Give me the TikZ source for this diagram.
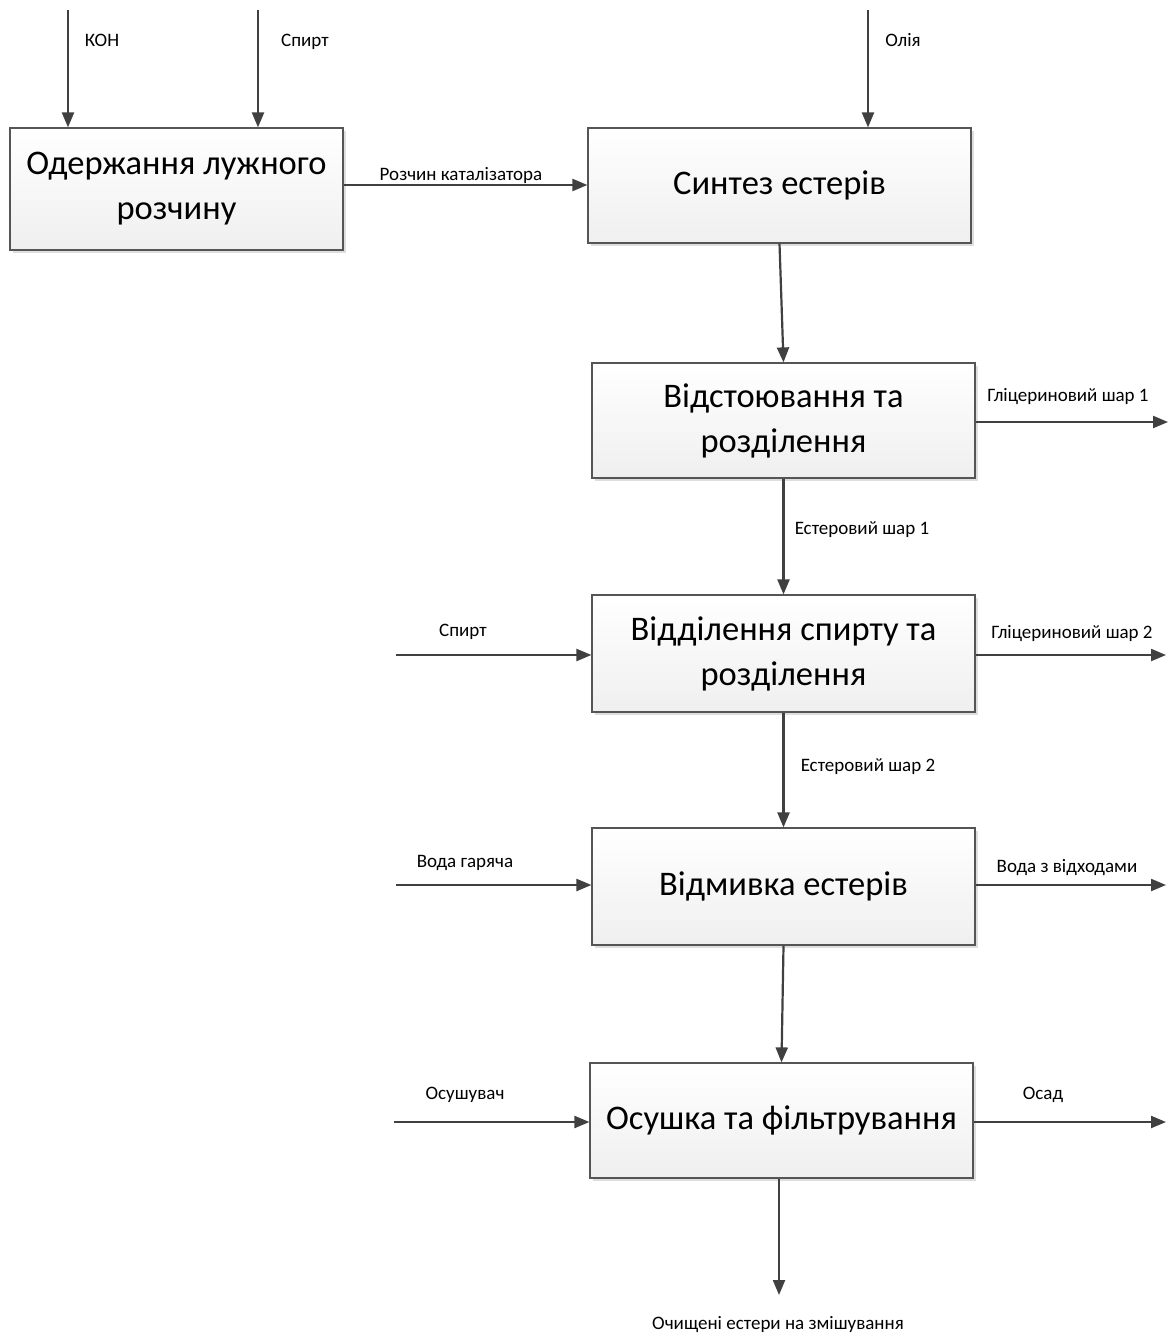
\documentclass[tikz,border=0pt]{standalone}
\usepackage{fontspec}
\setmainfont{Carlito}
\usetikzlibrary{arrows.meta,shadows}
\definecolor{linec}{HTML}{404040}
\definecolor{boxline}{HTML}{555555}
\definecolor{boxbot}{HTML}{EFEFEF}
\tikzset{
  procbox/.style={draw=boxline, line width=1.2pt, top color=white, bottom color=boxbot,
    drop shadow={shadow xshift=3pt, shadow yshift=-3pt, fill=black!13, opacity=1},
    align=center, inner sep=2pt, font=\fontsize{34.5}{45}\selectfont},
  flow/.style={draw=linec, line width=2.2pt, -{Triangle[length=15pt,width=12pt]}},
  lbl/.style={font=\fontsize{19}{23}\selectfont, inner sep=0pt, text=black}
}
\begin{document}
\begin{tikzpicture}[x=1pt,y=-1pt]
\useasboundingbox[fill=white] (0,0) rectangle (1171,1343);
% boxes
\node[procbox, minimum width=333pt, minimum height=122pt] (b1) at (176.5,189) {Одержання лужного\\розчину};
\node[procbox, minimum width=383pt, minimum height=115pt] (b2) at (779.5,185.5) {Синтез естерів};
\node[procbox, minimum width=383pt, minimum height=115pt] (b3) at (783.5,420.5) {Відстоювання та\\розділення};
\node[procbox, minimum width=383pt, minimum height=117pt] (b4) at (783.5,653.5) {Відділення спирту та\\розділення};
\node[procbox, minimum width=383pt, minimum height=117pt] (b5) at (783.5,886.5) {Відмивка естерів};
\node[procbox, minimum width=383pt, minimum height=115pt] (b6) at (781.5,1120.5) {Осушка та фільтрування};
% free ends
\coordinate (kohS) at (68,10);
\coordinate (spS) at (258,10);
\coordinate (olS) at (868,10);
\coordinate (gl1E) at (1168,422);
\coordinate (sp2S) at (396,655);
\coordinate (gl2E) at (1166,655);
\coordinate (vgS) at (396,885);
\coordinate (vvE) at (1166,885);
\coordinate (osS) at (394,1122);
\coordinate (odE) at (1166,1122);
\coordinate (finE) at (779,1295);
% connectors
\draw[flow] (kohS) -- (kohS |- b1.north);
\draw[flow] (spS) -- (spS |- b1.north);
\draw[flow] (olS) -- (olS |- b2.north);
\draw[flow] (b1.east |- 0,185) -- (b2.west |- 0,185);
\draw[flow] (b2.south) -- (b3.north);
\draw[flow] (b3.east |- gl1E) -- (gl1E);
\draw[flow] (b3.south) -- (b4.north);
\draw[flow] (sp2S) -- (b4.west |- sp2S);
\draw[flow] (b4.east |- gl2E) -- (gl2E);
\draw[flow] (b4.south) -- (b5.north);
\draw[flow] (vgS) -- (b5.west |- vgS);
\draw[flow] (b5.east |- vvE) -- (vvE);
\draw[flow] (b5.south) -- (b6.north);
\draw[flow] (osS) -- (b6.west |- osS);
\draw[flow] (b6.east |- odE) -- (odE);
\draw[flow] (b6.south -| finE) -- (finE);
% labels
\node[lbl] (lkoh) at (102,40) {КОН};
\node[lbl] (lsp) at (305,42) {Спирт};
\node[lbl] (lol) at (903,40) {Олія};
\node[lbl] (lrk) at (461,175) {Розчин каталізатора};
\node[lbl] (lgl1) at (1068,397) {Гліцериновий шар 1};
\node[lbl] (les1) at (862,530) {Естеровий шар 1};
\node[lbl] (lsp2) at (463,632) {Спирт};
\node[lbl] (lgl2) at (1072,634) {Гліцериновий шар 2};
\node[lbl] (les2) at (868,767) {Естеровий шар 2};
\node[lbl] (lvg) at (465,863) {Вода гаряча};
\node[lbl] (lvv) at (1067,868) {Вода з відходами};
\node[lbl] (los) at (465,1095) {Осушувач};
\node[lbl] (lod) at (1043,1095) {Осад};
\node[lbl] (lfin) at (778,1325) {Очищені естери на змішування};
\end{tikzpicture}
\end{document}
